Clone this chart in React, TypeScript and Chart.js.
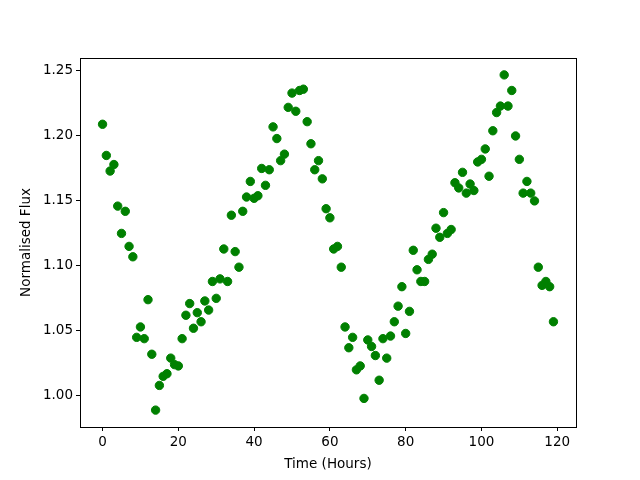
import React, { useEffect, useRef } from "react";
import { Chart, registerables } from "chart.js";

Chart.register(...registerables);

const hours: number[] = Array.from({ length: 120 }, (_, i) => i);

const flux: number[] = [
  1.209, 1.185, 1.173, 1.178, 1.146, 1.125, 1.142, 1.115, 1.107, 1.045,
  1.053, 1.044, 1.074, 1.032, 0.989, 1.008, 1.015, 1.017, 1.029, 1.024,
  1.023, 1.044, 1.062, 1.071, 1.052, 1.064, 1.057, 1.073, 1.066, 1.088,
  1.075, 1.090, 1.113, 1.088, 1.139, 1.111, 1.099, 1.142, 1.153, 1.165,
  1.152, 1.154, 1.175, 1.162, 1.174, 1.207, 1.198, 1.181, 1.186, 1.222,
  1.233, 1.219, 1.235, 1.236, 1.211, 1.194, 1.174, 1.181, 1.167, 1.144,
  1.137, 1.113, 1.115, 1.099, 1.053, 1.037, 1.045, 1.020, 1.023, 0.998,
  1.043, 1.038, 1.031, 1.012, 1.044, 1.029, 1.046, 1.057, 1.069, 1.084,
  1.048, 1.065, 1.112, 1.097, 1.088, 1.088, 1.105, 1.109, 1.129, 1.122,
  1.141, 1.125, 1.128, 1.164, 1.160, 1.172, 1.156, 1.163, 1.158, 1.180,
  1.182, 1.190, 1.169, 1.204, 1.218, 1.223, 1.247, 1.223, 1.235, 1.200,
  1.182, 1.156, 1.165, 1.156, 1.150, 1.099, 1.085, 1.088, 1.084, 1.057,
];

const xTicks: number[] = [0, 20, 40, 60, 80, 100, 120];
const yTicks: number[] = [1.0, 1.05, 1.1, 1.15, 1.2, 1.25];

const xLabel = "Time (Hours)";
const yLabel = "Normalised Flux";

export default function App() {
  const canvasRef = useRef<HTMLCanvasElement | null>(null);

  useEffect(() => {
    const canvas = canvasRef.current;
    if (!canvas) return;
    const font = { family: "'DejaVu Sans', sans-serif", size: 13.5 };

    const framePlugin = {
      id: "frame",
      afterDraw(chart: any) {
        const { ctx, chartArea } = chart;
        ctx.save();
        ctx.strokeStyle = "#000";
        ctx.lineWidth = 1;
        ctx.strokeRect(
          Math.round(chartArea.left) + 0.5,
          Math.round(chartArea.top) + 0.5,
          Math.round(chartArea.right - chartArea.left),
          Math.round(chartArea.bottom - chartArea.top)
        );
        ctx.restore();
      },
    };

    const chart = new Chart(canvas, {
      type: "scatter",
      data: {
        datasets: [
          {
            data: hours.map((h, i) => ({ x: h, y: flux[i] })),
            backgroundColor: "#008000",
            borderColor: "#008000",
            borderWidth: 1,
            pointRadius: 4.2,
            pointHoverRadius: 4.2,
          },
        ],
      },
      options: {
        animation: false,
        responsive: false,
        events: [],
        layout: { padding: { left: 14, right: 64, top: 58, bottom: 3 } },
        plugins: {
          legend: { display: false },
          tooltip: { enabled: false },
        },
        scales: {
          x: {
            type: "linear",
            min: -5.95,
            max: 124.95,
            afterBuildTicks: (scale: any) => {
              scale.ticks = xTicks.map((v) => ({ value: v }));
            },
            afterFit: (scale: any) => {
              scale.height = 50;
            },
            ticks: {
              color: "#000",
              font,
              padding: 3,
              maxRotation: 0,
              autoSkip: false,
              callback: (v: any) => String(v),
            },
            grid: {
              drawOnChartArea: false,
              drawTicks: true,
              tickLength: 4,
              color: "#000",
            },
            border: { display: true, color: "#000" },
            title: {
              display: true,
              text: xLabel,
              color: "#000",
              font,
              padding: { top: 4, bottom: 4 },
            },
          },
          y: {
            type: "linear",
            min: 0.976,
            max: 1.26,
            afterBuildTicks: (scale: any) => {
              scale.ticks = yTicks.map((v) => ({ value: v }));
            },
            afterFit: (scale: any) => {
              scale.width = 66;
            },
            ticks: {
              color: "#000",
              font,
              padding: 3,
              autoSkip: false,
              callback: (v: any) => Number(v).toFixed(2),
            },
            grid: {
              drawOnChartArea: false,
              drawTicks: true,
              tickLength: 4,
              color: "#000",
            },
            border: { display: true, color: "#000" },
            title: {
              display: true,
              text: yLabel,
              color: "#000",
              font,
              padding: { top: 4, bottom: 4 },
            },
          },
        },
      },
      plugins: [framePlugin],
    } as any);

    return () => chart.destroy();
  }, []);

  return (
    <div style={{ position: "absolute", left: 0, top: 0, width: 640, height: 480, background: "#fff" }}>
      <canvas ref={canvasRef} width={640} height={480} style={{ display: "block" }} />
    </div>
  );
}
